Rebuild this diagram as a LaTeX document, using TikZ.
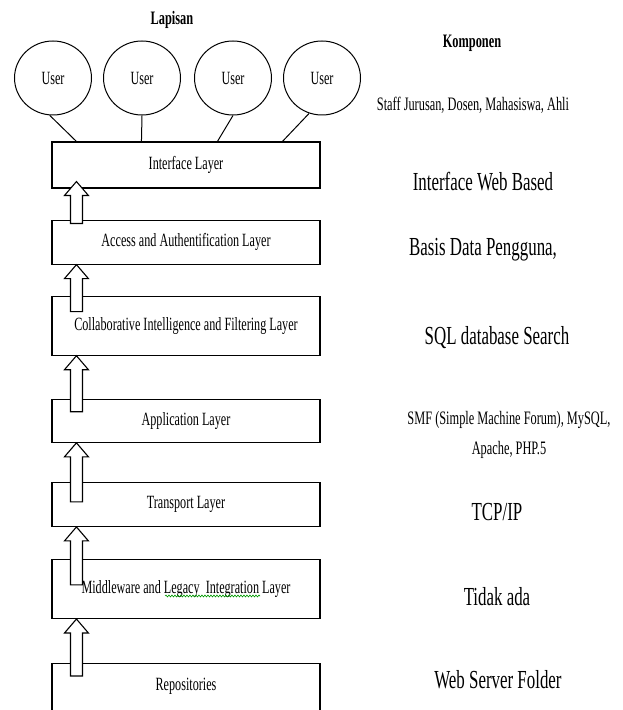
\documentclass[tikz,border=0pt]{standalone}
\usepackage{fontspec}
\setmainfont{Liberation Serif}[FakeStretch=0.65]
\usepackage{tikz}
\usetikzlibrary{positioning, calc, shapes.geometric, decorations.pathmorphing}
\tikzset{
	user/.style={ellipse, draw, line width=1pt, minimum width=77pt, minimum height=74pt, inner sep=0pt, font=\fontsize{18.7}{21}\selectfont}, % the user bubbles
	layer/.style={draw, line width=1.1pt, minimum width=268pt, inner sep=0pt, font=\fontsize{18.7}{21}\selectfont}, % one box per layer
	blockarrow/.style={draw, fill=white, line width=1.1pt, line join=miter}, % hollow up arrows
	head text/.style={font=\bfseries\fontsize{19}{22}\selectfont},
	mid text/.style={font=\fontsize{19}{30}\selectfont, align=center},
	big text/.style={font=\fontsize{26}{30}\selectfont},
	spell/.style={draw=green!60!black, line width=0.6pt, decorate, decoration={snake, amplitude=1pt, segment length=3pt}},
}
% hollow arrow from the lower layer up to the upper one
\newcommand{\layerarrow}[4]{% #1 upper, #2 lower, #3 shaft depth, #4 tip lift
	\path ([xshift=25pt, yshift=#4pt]#1.south west) coordinate (tip)
	      ([yshift=-#3pt]#2.north) coordinate (tail);
	\draw[blockarrow] (tip) -- ++(-12,-14) -- ++(6,0) -- ($(tip |- tail)+(-6,0)$)
	      -- ($(tip |- tail)+(6,0)$) -- ($(tip)+(6,-14)$) -- ++(6,0) -- cycle;
}

\begin{document}
\begin{tikzpicture}[x=1pt, y=1pt]
	\useasboundingbox (0,0) rectangle (623,710);

	% Users
	\node[user] (u1) at (53,632) {User};
	\node[user, right=11pt of u1] (u2) {User};
	\node[user, right=13pt of u2] (u3) {User};
	\node[user, right=11pt of u3] (u4) {User};

	% Layers
	\node[layer, minimum height=46pt] (iface) at (186,545) {Interface Layer};
	\node[layer, minimum height=44pt, below=31pt of iface] (access) {Access and Authentification Layer};
	\node[layer, minimum height=59pt, below=31pt of access] (collab) {Collaborative Intelligence and Filtering Layer};
	\node[layer, minimum height=43pt, below=43pt of collab] (app) {Application Layer};
	\node[layer, minimum height=44pt, below=39pt of app] (transport) {Transport Layer};
	\node[layer, minimum height=59pt, below=32pt of transport] (middle) {Middleware and Legacy\ \ Integration Layer};
	\node[layer, minimum height=58pt, text depth=16pt, below=44pt of middle] (repo) {Repositories};
	\draw[spell] ($(middle.center)+(-21,-7)$) -- ($(middle.center)+(74,-7)$);

	% Users to interface
	\draw[line width=1pt] (u1.-95) -- ([xshift=25pt]iface.north west);
	\draw[line width=1pt] (u2.south) -- ([xshift=90pt]iface.north west);
	\draw[line width=1pt] (u3.south) -- ([xshift=166pt]iface.north west);
	\draw[line width=1pt] (u4.-110) -- ([xshift=231pt]iface.north west);

	% Arrows between layers
	\layerarrow{iface}{access}{4}{7}
	\layerarrow{access}{collab}{16}{0}
	\layerarrow{collab}{app}{13}{0}
	\layerarrow{app}{transport}{20}{0}
	\layerarrow{transport}{middle}{26}{0}
	\layerarrow{middle}{repo}{13}{0}

	% Headings and components
	\node[head text] (lapisan) at (172,690) {Lapisan};
	\node[head text] (komponen) at (472,667) {Komponen};
	\node[mid text] (k0) at (473,605) {Staff Jurusan, Dosen, Mahasiswa, Ahli};
	\node[big text] (k1) at (483,528) {Interface Web Based};
	\node[big text] (k2) at (483,460) {Basis Data Pengguna,};
	\node[big text] (k3) at (497,372) {SQL database Search};
	\node[mid text] (k4) at (509,275) {SMF (Simple Machine Forum), MySQL,\\Apache, PHP.5};
	\node[big text] (k5) at (497,198) {TCP/IP};
	\node[big text] (k6) at (497,113) {Tidak ada};
	\node[big text] (k7) at (498,30) {Web Server Folder};
\end{tikzpicture}
\end{document}
